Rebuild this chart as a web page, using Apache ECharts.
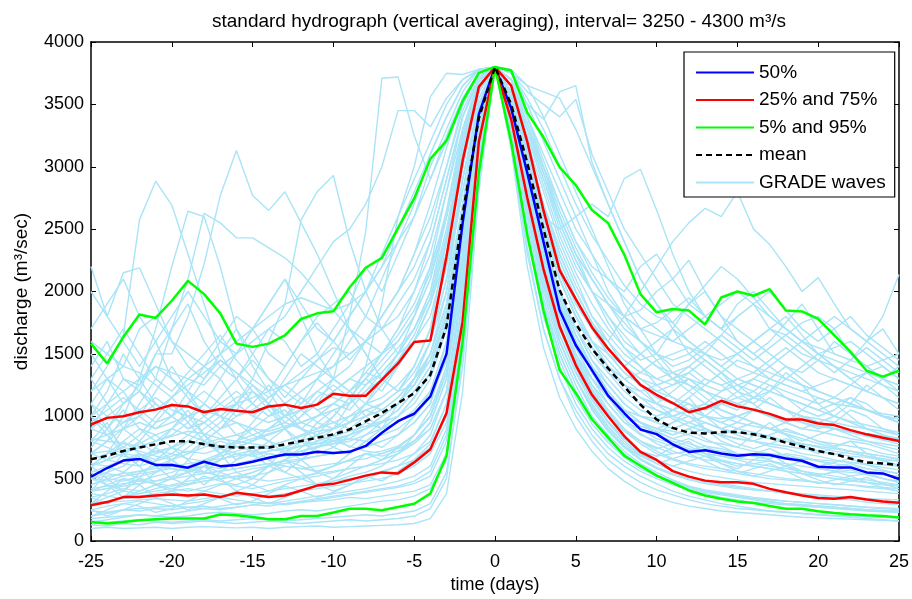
<!DOCTYPE html>
<html>
<head>
<meta charset="utf-8">
<script src="https://cdn.jsdelivr.net/npm/echarts@6/dist/echarts.min.js"></script>
<style>html,body{margin:0;padding:0;background:#fff}#c{width:912px;height:599px}</style>
</head>
<body>
<div id="c"></div>
<script>
const days = [-25,-24,-23,-22,-21,-20,-19,-18,-17,-16,-15,-14,-13,-12,-11,-10,-9,-8,-7,-6,-5,-4,-3,-2,-1,0,1,2,3,4,5,6,7,8,9,10,11,12,13,14,15,16,17,18,19,20,21,22,23,24,25];
const xTicks = [-25,-20,-15,-10,-5,0,5,10,15,20,25];
const yTicks = [0,500,1000,1500,2000,2500,3000,3500,4000];

const p05 = [153,140,153,167,175, 180,180,180,212,206, 193,175,175,200,200, 228,259,259,246,272, 299,380,683,1600,2950, 3800, 3200,2450,1850,1370,1185, 974,830,683,603,524, 466,405,365,339,317, 304,280,259,259,238, 225,214,206,201,188];
const p25 = [286,312,352,352,365, 373,365,373,352,386, 370,352,365,405,444, 458,490,524,550,542, 630,735,1026,1760,3200, 3800, 3380,2750,2180,1720,1410, 1172,1000,841,715,650, 560,516,484,471,471, 458,418,391,365,344, 339,352,333,317,307];
const p50 = [515,585,645,658,610, 610,588,635,600,610, 635,668,693,693,715, 706,715,762,868,960, 1020,1159,1500,2550,3420, 3800, 3470,2950,2400,1850,1569, 1370,1165,1026,894,857, 775,714,728,701,683, 696,690,661,643,595, 590,590,550,542,497];
const p75 = [934,987,1000,1032,1053, 1090,1079,1032,1058,1045, 1032,1079,1093,1066,1093, 1180,1164,1164,1291,1423, 1595,1608,2280,3050,3640, 3800, 3650,3200,2650,2170,1939, 1714,1542,1397,1251,1172, 1106,1032,1066,1124,1079, 1053,1019,974,974,942, 929,889,855,828,802];
const p95 = [1582,1423,1635,1815,1788, 1926,2085,1979,1825,1582, 1556,1582,1648,1780,1825, 1841,2032,2190,2270,2508, 2746,3063,3209,3526,3752, 3800, 3772,3434,3236,2997,2852, 2653,2548,2296,1979,1833, 1860,1847,1736,1952,2000, 1966,2019,1847,1840,1780, 1648,1516,1365,1318,1365];
const meanQ = [656,683,722,749,775, 799,799,775,757,749, 749,749,775,802,828, 855,894,960,1026,1106, 1185,1331,1720,2620,3390, 3800, 3500,3030,2500,2010,1741, 1542,1384,1238,1093,974, 907,868,862,873,873, 855,828,788,757,722, 696,661,630,622,608];

const gradeWaves = [
 [900,1100,1300,1250,1500, 1500,1800,2220,2770,3130, 2770,2650,2800,2550,2300, 2000,1700,1500,1300,1200, 1400,1700,2400,3200,3650, 3800, 3400,2700,2100,1700,1450, 1300,1150,1000,950,900, 850,900,820,760,700, 680,650,600,640,580, 560,520,540,500,480],
 [1200,1400,1650,2574,2884, 2693,2300,1900,1500,1300, 1100,1000,1050,900,850, 800,820,900,1000,1100, 1250,1500,2000,2900,3500, 3800, 3500,2900,2300,1900,1600, 1350,1150,1000,900,820, 780,740,700,680,650, 620,600,580,560,540, 520,500,490,470,450],
 [500,550,600,700,650, 700,800,900,1000,1100, 1300,1600,1900,2574,2800, 2930,2405,2000,1700,1500, 1600,1900,2300,3000,3600, 3800, 3600,3100,2500,2100,1800, 1600,1450,1300,1200,1100, 1050,1000,950,900,870, 850,820,800,780,760, 740,720,700,680,660],
 [600,700,900,1100,1300, 1700,2100,2627,2550,2430, 2430,2350,2270,2150,2000, 1850,1700,1500,1300,1200, 1250,1500,1900,2700,3400, 3800, 3300,2700,2200,1800,1500, 1300,1150,1050,950,900, 880,850,800,780,750, 720,700,690,660,640, 620,600,580,560,540],
 [700,800,1000,1300,1700, 2200,2643,2600,2200,1700, 1400,1200,1000,900,850, 800,760,720,700,750, 850,1000,1400,2300,3300, 3800, 3400,2800,2300,1900,1600, 1400,1200,1050,950,850, 800,760,700,650,620, 600,580,560,540,520, 500,480,470,450,440],
 [2200,1800,2150,2190,1900, 1600,1400,1300,1450,1350, 1200,1100,1000,1050,950, 900,950,1100,1300,1500, 1800,2200,2800,3300,3650, 3800, 3600,3200,2800,2400,2100, 1800,1600,1400,1250,1100, 1000,950,900,850,820, 800,760,740,700,680, 650,630,610,590,570],
 [400,450,500,480,520, 550,600,650,700,750, 800,850,900,1000,1100, 1300,1800,2480,3710,3720, 3250,2900,3200,3500,3750, 3800, 3700,3400,3000,2600,2300, 2000,1750,1550,1400,1250, 1150,1050,1000,950,900, 870,840,800,780,750, 720,700,680,660,640],
 [300,320,350,380,400, 420,450,480,500,520, 550,600,650,700,800, 900,1100,1400,1900,2600, 3000,3560,3750,3740,3780, 3800, 3780,3650,3400,3100,2800, 2500,2200,1900,1700,1500, 1350,1250,1150,1050,1000, 950,900,860,820,780, 750,720,700,680,650],
 [1000,900,1100,1200,1050, 1150,1300,1250,1400,1500, 1600,1700,1800,2000,2200, 2400,2500,2700,3000,3450, 3450,3320,3550,3700,3770, 3800, 3700,3500,3200,2900,2600, 2300,2000,1800,1600,1450, 1300,1200,1100,1050,1000, 950,900,880,850,800, 780,760,740,700,680],
 [500,480,520,560,600, 620,580,600,650,700, 680,720,750,800,780, 820,850,900,1000,1100, 1300,1600,2100,2900,3500, 3800, 3780,3500,3380,3600,3650, 3036,2700,2400,2100,1900, 1700,1500,1400,1300,1200, 1150,1100,1050,1000,950, 900,880,850,820,800],
 [800,850,900,950,900, 950,1000,1050,1000,1100, 1150,1200,1250,1300,1350, 1400,1500,1600,1800,2000, 2200,2500,3000,3500,3750, 3800, 3750,3600,3500,3400,3540, 3100,2800,2500,2300,2100, 1900,1800,1700,1600,1500, 1400,1350,1300,1250,1200, 1150,1100,1050,1000,950],
 [400,420,450,500,480, 520,550,600,580,620, 650,700,680,720,750, 800,850,900,1000,1100, 1300,1600,2000,2700,3400, 3800, 3500,3000,2600,2500,2600, 2700,2600,2905,2980,2653, 2300,2000,1800,1700,1600, 1500,1400,1300,1250,1200, 1150,1100,1050,1000,980],
 [600,650,700,680,720, 750,800,780,820,850, 900,880,920,950,1000, 1050,1100,1200,1300,1450, 1600,1900,2400,3100,3600, 3800, 3600,3100,2600,2200,1900, 1700,1600,1800,2000,2200, 2400,2550,2667,2600,2800, 2500,2376,2200,2000,2111, 1900,1700,1600,1500,1400],
 [300,350,400,380,420, 450,480,500,520,550, 580,600,620,650,680, 700,720,760,800,850, 950,1100,1600,2500,3300, 3800, 3400,2800,2300,1900,1600, 1400,1250,1100,1000,950, 900,950,1000,1100,1200, 1300,1400,1500,1600,1700, 1800,1700,1600,1800,2137],
 [130,120,140,130,150, 140,150,160,150,140, 150,160,150,140,150, 160,170,160,170,180, 200,260,500,1500,2900, 3800, 3200,2300,1700,1300,1050, 850,700,600,520,460, 400,360,330,300,280, 260,240,230,220,210, 200,190,180,170,160],
 [200,220,250,240,260, 250,270,280,260,270, 290,280,300,310,320, 330,350,340,360,380, 400,450,700,1700,3000, 3800, 3300,2500,1900,1500,1200, 1000,850,720,620,550, 490,440,400,380,360, 340,320,300,290,280, 270,260,250,240,230],
 [350,380,420,400,450, 420,400,430,460,440, 420,450,480,500,520, 550,580,600,620,650, 700,800,1100,1900,3100, 3800, 3400,2700,2100,1650,1350, 1150,950,800,700,620, 560,520,480,460,440, 420,400,390,370,350, 340,330,310,300,290],
 [550,600,650,700,620, 580,560,600,650,700, 680,650,700,720,750, 780,800,850,900,950, 1050,1200,1500,2400,3400, 3800, 3500,2900,2400,1950,1600, 1350,1150,980,860,780, 720,680,650,640,620, 600,580,560,540,520, 500,490,470,460,450],
 [1300,1100,900,1000,1200, 1400,1200,1000,900,1000, 1100,1250,1100,950,900, 1000,1150,1300,1200,1400, 1600,1800,2300,3000,3600, 3800, 3600,3100,2600,2200,1900, 1700,1500,1350,1250,1150, 1100,1200,1300,1250,1150, 1100,1200,1350,1250,1100, 1000,1100,1250,1150,1050],
 [750,900,1050,900,800, 850,950,1100,1000,850, 800,900,1000,1150,1050, 950,900,1000,1100,1200, 1400,1700,2200,2800,3500, 3800, 3500,3000,2500,2100,1800, 1550,1400,1250,1150,1100, 1050,1150,1250,1350,1200, 1100,1000,950,1050,1150, 1100,1000,900,850,800],
 [450,500,480,520,550, 600,580,550,520,500, 520,550,600,580,560, 600,650,700,680,720, 800,950,1300,2200,3300, 3800, 3450,2850,2300,1850,1500, 1250,1050,900,800,720, 660,620,600,580,560, 540,520,500,490,470, 460,450,430,420,400],
 [1600,1500,1400,1700,1800, 1600,1500,1400,1600,1800, 1700,1500,1400,1600,1800, 1900,2000,1800,1700,1900, 2100,2400,2900,3400,3700, 3800, 3700,3300,2900,2500,2200, 2000,1900,1800,1850,2000, 2100,1900,1800,1700,1900, 2000,1850,1700,1600,1500, 1450,1400,1350,1300,1250],
 [700,650,800,900,850, 750,700,800,900,950, 850,800,750,800,850, 900,1000,1100,1050,1150, 1300,1500,1900,2600,3450, 3800, 3550,3000,2500,2100,1800, 1600,1500,1400,1500,1600, 1700,1600,1500,1400,1500, 1600,1700,1800,1650,1500, 1400,1300,1350,1400,1300],
 [250,280,300,320,300, 280,300,320,350,330, 310,300,320,340,360, 380,400,420,450,480, 520,600,900,1750,3050, 3800, 3300,2600,2000,1550,1250, 1000,820,700,600,520, 460,420,390,370,350, 330,310,300,290,280, 270,260,250,245,240],
 [1000,1200,1500,1300,1100, 1000,1100,1300,1500,1700, 1500,1300,1200,1100,1300, 1500,1700,1600,1500,1700, 1900,2200,2600,3200,3700, 3800, 3650,3250,2850,2450,2150, 1900,1700,1550,1450,1500, 1700,1900,2000,1800,1600, 1500,1600,1750,1900,1700, 1500,1450,1600,1700,1500],
 [100,110,100,105,110, 100,110,115,110,105, 110,100,110,115,120, 110,115,120,125,130, 140,180,380,1200,2800, 3800, 3150,2200,1550,1150,900, 720,580,480,400,350, 310,280,260,240,230, 220,210,200,190,185, 180,175,170,165,160],
 [500,450,400,550,600, 500,450,520,480,450, 500,600,550,500,450, 480,520,550,600,700, 850,1050,1400,2100,3200, 3800, 3350,2750,2200,1800,1450, 1200,1000,880,800,750, 700,720,760,740,700, 680,660,700,680,640, 600,620,580,560,540],
 [800,750,700,780,850, 900,850,800,750,800, 850,900,950,900,1000, 1100,1050,1200,1350,1500, 1700,2000,2500,3200,3650, 3800, 3650,3300,3000,2700,2400, 2200,2100,2000,2200,2300, 2100,2250,2000,1800,1700, 1600,1500,1400,1350,1450, 1600,1500,1400,1300,1250],
 [650,700,750,720,680, 650,700,750,800,760, 720,700,680,720,760, 780,820,800,850,900, 1000,1150,1450,2300,3350, 3800, 3450,2900,2350,1900,1550, 1300,1100,950,850,800, 760,730,700,680,660, 650,640,620,600,580, 560,550,540,530,520],
 [1100,1000,950,1050,1150, 1050,1000,950,1050,1100, 1000,950,1000,1100,1200, 1150,1100,1250,1400,1550, 1700,1950,2450,3100,3600, 3800, 3600,3150,2700,2300,2000, 1750,1550,1400,1300,1200, 1150,1100,1050,1100,1150, 1200,1100,1050,1000,980, 950,920,900,880,850],
 [1400,1600,1300,1200,1500, 1700,1900,1600,1400,1300, 1500,1700,1600,1400,1500, 1700,1900,2200,2000,2300, 2600,3000,3300,3600,3780, 3800, 3700,3400,3100,2800,2500, 2300,2100,1950,1800,1700, 1600,1550,1500,1650,1800, 1900,1700,1600,1500,1450, 1400,1350,1300,1250,1200],
 [900,850,950,1000,1100, 1000,900,950,1050,1150, 1200,1100,1000,1050,1100, 1200,1300,1250,1350,1500, 1700,2000,2600,3300,3700, 3800, 3550,3050,2600,2250,1950, 1700,1500,1350,1250,1150, 1100,1050,1000,980,1000, 1050,1000,950,900,880, 850,820,800,780,760],
 [380,360,340,360,380, 400,420,400,380,360, 380,400,420,440,460, 480,500,520,560,600, 650,750,1000,1850,3150, 3800, 3350,2650,2050,1600,1300, 1080,900,760,660,590, 540,500,470,450,430, 410,400,380,370,360, 350,340,330,320,310],
 [180,190,200,210,200, 190,200,220,230,220, 210,220,240,250,240, 260,280,300,320,330, 360,420,650,1550,2950, 3800, 3250,2450,1800,1400,1100, 900,750,640,560,500, 450,410,380,350,330, 310,300,290,280,270, 260,250,240,235,230],
 [820,800,780,760,800, 840,880,860,820,800, 780,760,800,840,880, 900,950,1000,1050,1150, 1300,1450,1800,2500,3450, 3800, 3500,2950,2450,2000,1650, 1400,1200,1050,950,870, 820,780,740,720,700, 690,680,670,660,650, 640,630,620,610,600],
 [600,650,700,750,800, 900,1000,1100,1300,1500, 1700,1900,2100,1800,1500, 1300,1200,1100,1150,1250, 1400,1700,2200,2900,3550, 3800, 3550,3050,2550,2150,1850, 1600,1400,1250,1150,1050, 980,920,880,850,820, 800,780,760,740,720, 700,680,670,650,640],
 [500,520,540,560,580, 600,620,640,660,680, 700,720,740,760,780, 800,850,900,950,1000, 1100,1300,1700,2500,3400, 3800, 3450,2900,2400,2000,1700, 1500,1350,1250,1200,1250, 1300,1400,1500,1450,1500, 1600,1700,1650,1750,1800, 1700,1500,1400,1300,1200],
 [240,230,250,260,270, 280,270,260,280,300, 310,300,290,310,330, 350,370,390,410,430, 460,520,800,1650,3000, 3800, 3280,2550,1950,1500,1200, 980,810,690,600,530, 480,440,410,390,370, 350,335,320,310,300, 290,280,270,260,250],
 [1200,1300,1400,1350,1250, 1150,1250,1350,1450,1350, 1250,1150,1250,1350,1450, 1550,1500,1600,1700,1800, 2000,2300,2800,3400,3720, 3800, 3650,3300,2950,2600,2300, 2100,1900,1750,1600,1500, 1450,1500,1600,1500,1400, 1350,1450,1550,1450,1350, 1300,1250,1200,1300,1400],
 [700,720,680,650,700, 750,800,780,740,700, 720,760,800,850,900, 950,1000,1050,1100,1200, 1350,1600,2100,2800,3500, 3800, 3500,3000,2500,2100,1800, 1550,1400,1300,1350,1450, 1500,1550,1450,1350,1250, 1150,1100,1050,1000,950, 900,870,840,810,780],
 [600,650,620,600,640, 680,720,700,740,780, 820,860,900,950,1000, 1100,1200,1300,1500,1700, 2000,2400,2900,3400,3700, 3800, 3750,3650,3600,3550,3300, 3000,2700,2400,2100,1900, 1750,1600,1500,1400,1300, 1250,1200,1150,1100,1050, 1000,960,930,900,870],
 [1700,1900,2100,1800,1600, 1300,1200,1100,1000,950, 900,1000,1100,1200,1300, 1400,1600,1800,2100,2400, 2700,3100,3400,3650,3780, 3800, 3700,3350,2950,2550,2250, 2000,1800,1650,1500,1400, 1300,1250,1200,1150,1100, 1050,1000,980,950,920, 900,880,860,840,820],
 [420,440,460,480,460, 440,460,480,500,520, 500,480,500,520,540, 560,580,600,650,700, 780,900,1200,2000,3200, 3800, 3400,2750,2150,1700,1400, 1150,950,820,720,650, 600,560,530,510,490, 470,460,450,440,430, 420,410,400,390,380],
 [160,150,160,170,160, 150,160,170,160,170, 180,170,160,170,180, 190,200,210,200,220, 240,300,550,1400,2850, 3800, 3150,2350,1700,1300,1000, 800,650,550,470,410, 370,330,300,280,260, 250,240,230,220,210, 205,200,195,190,185],
 [1000,1100,1200,1300,1400, 1350,1300,1400,1500,1600, 1700,1800,1900,1950,1900, 1850,1900,2000,2200,2400, 2600,2900,3250,3550,3750, 3800, 3650,3300,2950,2600,2300, 2100,1900,1800,1700,1650, 1600,1700,1800,1900,2000, 1900,1800,1700,1600,1500, 1400,1300,1200,1150,1100],
 [560,540,520,540,560, 580,560,540,560,580, 600,620,600,580,600, 620,640,660,700,740, 800,900,1200,2100,3300, 3800, 3400,2800,2250,1800,1450, 1200,1020,880,780,700, 650,610,580,560,540, 520,500,490,480,470, 460,450,440,430,420],
 [400,420,440,460,480, 500,520,540,560,580, 600,620,640,660,680, 700,720,750,800,850, 950,1100,1500,2300,3300, 3800, 3400,2850,2300,1850,1550, 1300,1150,1050,1000,980, 1000,1050,1100,1200,1300, 1250,1200,1300,1400,1500, 1550,1600,1500,1400,1300],
 [1100,1300,1200,1000,900, 1000,1200,1400,1300,1100, 1000,1100,1300,1500,1400, 1300,1400,1600,1800,2000, 2300,2600,3000,3450,3720, 3800, 3600,3250,2900,2550,2250, 2000,1800,1600,1500,1400, 1350,1300,1250,1350,1450, 1400,1300,1250,1200,1150, 1100,1080,1050,1020,1000],
 [300,310,320,330,340, 330,320,340,360,380, 370,360,380,400,420, 440,460,480,500,540, 600,700,950,1800,3100, 3800, 3300,2650,2050,1600,1300, 1060,880,750,650,580, 530,490,460,440,420, 410,400,390,380,370, 360,350,340,335,330],
 [620,600,640,680,720, 700,660,640,680,720, 760,740,720,760,800, 840,880,920,960,1050, 1200,1400,1800,2600,3450, 3800, 3500,3000,2500,2100,1800, 1550,1350,1200,1100,1050, 1000,1050,1100,1000,950, 920,900,950,1000,950, 900,880,860,840,820],
 [800,950,700,600,750, 900,1050,850,700,800, 950,1100,900,750,850, 1000,1150,1000,900,1100, 1300,1500,1900,2700,3500, 3800, 3500,2950,2450,2000,1700, 1450,1250,1100,1000,950, 1050,1150,1000,900,950, 1050,1150,1050,950,900, 950,1050,1000,900,850],
 [400,550,700,600,450, 500,650,800,700,550, 500,600,750,650,550, 600,700,800,750,850, 1000,1200,1600,2400,3400, 3800, 3400,2850,2300,1850,1500, 1250,1100,950,900,850, 950,1050,900,800,750, 850,950,850,750,700, 750,800,700,650,600],
 [1100,900,750,850,1000, 1150,1000,850,950,1100, 1250,1100,950,1050,1200, 1300,1200,1350,1500,1650, 1850,2150,2650,3300,3700, 3800, 3600,3150,2700,2350,2050, 1800,1650,1500,1400,1300, 1250,1350,1450,1350,1250, 1200,1300,1400,1300,1200, 1150,1250,1350,1250,1150],
 [300,400,500,450,350, 400,500,600,500,400, 450,550,650,550,450, 500,600,700,650,750, 850,1000,1350,2200,3300, 3800, 3380,2780,2200,1750,1420, 1150,960,820,720,680, 750,800,700,620,580, 650,700,620,560,520, 560,600,540,500,470],
 [600,500,400,500,650, 750,650,550,650,800, 900,800,700,800,950, 1050,950,1100,1250,1400, 1600,1900,2400,3100,3600, 3800, 3550,3050,2550,2150,1850, 1600,1400,1250,1150,1100, 1200,1300,1200,1100,1050, 1150,1250,1150,1050,1000, 1050,1150,1100,1000,950],
 [200,250,300,280,230, 260,320,380,340,290, 320,380,440,400,350, 390,450,520,480,560, 650,780,1100,1950,3150, 3800, 3300,2650,2050,1600,1300, 1050,880,760,680,620, 660,700,640,580,540, 580,620,560,500,460, 490,520,470,430,400],
 [1300,1500,1700,1500,1300, 1200,1350,1500,1650,1450, 1300,1200,1400,1600,1750, 1600,1800,2000,2200,2500, 2800,3100,3400,3650,3780, 3800, 3700,3400,3050,2700,2400, 2150,1950,1800,1700,1750, 1850,1950,1800,1700,1800, 1900,2000,1850,1700,1600, 1700,1800,1650,1550,1450],
 [950,1050,1150,1050,950, 1000,1100,1200,1100,1000, 1050,1150,1250,1150,1050, 1100,1200,1350,1300,1450, 1650,1950,2450,3150,3650, 3800, 3600,3150,2700,2300,2000, 1750,1550,1400,1300,1250, 1300,1350,1250,1200,1250, 1300,1250,1200,1150,1100, 1150,1100,1050,1000,980],
 [500,600,550,650,750, 650,550,600,700,800, 700,600,650,750,850, 750,700,800,900,1000, 1150,1350,1750,2550,3450, 3800, 3480,2950,2450,2000,1650, 1400,1200,1050,950,900, 850,900,950,900,850, 800,850,900,850,800, 760,800,780,740,700],
 [250,200,250,300,350, 300,250,300,350,400, 350,300,350,400,450, 400,450,500,550,600, 700,850,1200,2050,3200, 3800, 3320,2700,2100,1650,1350, 1100,920,780,690,640, 600,640,680,620,560, 520,560,600,540,490, 450,480,510,460,420],
 [1500,1300,1100,1250,1400, 1300,1150,1000,1150,1300, 1450,1300,1150,1300,1450, 1600,1450,1600,1800,2000, 2300,2700,3150,3550,3750, 3800, 3650,3350,3000,2650,2350, 2100,1900,1700,1600,1500, 1400,1450,1550,1650,1550, 1450,1550,1650,1550,1450, 1350,1450,1550,1450,1350],
 [700,800,900,800,700, 750,850,950,850,750, 800,900,1000,900,800, 850,950,1050,1000,1100, 1250,1450,1850,2650,3500, 3800, 3480,2950,2450,2000,1700, 1450,1300,1150,1050,1000, 1050,1100,1000,950,1000, 1050,1000,950,900,950, 1000,950,900,850,820],
 [350,300,350,400,450, 400,350,400,450,500, 450,400,450,500,550, 500,550,600,650,700, 800,950,1300,2150,3250, 3800, 3350,2750,2150,1700,1380, 1130,950,820,720,680, 700,720,680,640,600, 620,640,600,560,530, 550,570,530,500,470],
 [1000,850,700,800,950, 1100,950,800,900,1050, 1200,1050,900,1000,1150, 1250,1150,1300,1450,1600, 1800,2100,2600,3250,3680, 3800, 3580,3100,2650,2250,1950, 1700,1500,1350,1250,1200, 1250,1300,1200,1150,1100, 1150,1200,1150,1100,1050, 1100,1150,1050,1000,950],
 [150,170,190,210,200, 220,240,260,250,270, 290,310,300,320,340, 360,380,400,420,440, 480,560,850,1700,3000, 3800, 3250,2500,1900,1450,1150, 940,790,670,580,520, 470,430,400,380,360, 340,330,320,310,300, 290,280,270,265,260],
 [600,700,800,700,600, 650,750,850,750,650, 700,800,900,800,700, 750,850,950,900,1000, 1150,1350,1750,2550,3450, 3800, 3450,2900,2400,1950,1650, 1400,1200,1050,950,900, 950,1000,900,850,900, 950,900,850,800,850, 900,850,800,760,730],
 [450,500,550,500,450, 500,550,600,550,500, 550,600,650,600,550, 600,650,700,720,760, 850,1000,1350,2250,3300, 3800, 3420,2820,2250,1800,1470, 1220,1030,900,800,740, 780,820,760,700,660, 700,740,680,630,600, 630,660,610,570,540],
 [900,1000,1100,1200,1100, 1000,900,1000,1100,1200, 1100,1000,1100,1200,1300, 1200,1300,1400,1500,1600, 1800,2100,2600,3250,3680, 3800, 3600,3150,2700,2300,2000, 1750,1600,1450,1350,1300, 1350,1400,1300,1250,1300, 1350,1300,1250,1200,1250, 1300,1250,1200,1150,1100],
 [2000,1800,1600,1400,1600, 1800,2000,1800,1600,1500, 1700,1900,2100,1900,1700, 1600,1800,2000,2300,2600, 2900,3200,3500,3700,3780, 3800, 3750,3550,3300,3000,2700, 2450,2250,2050,1900,1800, 1750,1900,2050,2200,2100, 1950,1800,1700,1600,1550, 1500,1450,1400,1450,1500],
 [550,450,350,450,550, 650,550,450,550,650, 750,650,550,650,750, 850,750,850,950,1050, 1200,1400,1800,2600,3450, 3800, 3450,2900,2400,1950,1600, 1350,1150,1000,920,880, 820,860,900,840,780, 740,780,820,770,720, 690,720,680,640,610]
];

const FONT = 'Liberation Sans, Arial, sans-serif';
const pair = arr => arr.map((v, i) => [days[i], v]);

const series = [];
gradeWaves.forEach(w => {
  series.push({ name: 'GRADE waves', type: 'line', data: pair(w), symbol: 'none', silent: true,
    lineStyle: { color: '#a9e4f7', width: 1.4 }, itemStyle: { color: '#a9e4f7' }, z: 1 });
});
series.push({ name: '50%', type: 'line', data: pair(p50), symbol: 'none',
  lineStyle: { color: '#0000ff', width: 2.5 }, itemStyle: { color: '#0000ff' }, z: 3 });
series.push({ name: '25% and 75%', type: 'line', data: pair(p25), symbol: 'none',
  lineStyle: { color: '#ff0000', width: 2.5 }, itemStyle: { color: '#ff0000' }, z: 3 });
series.push({ name: '25% and 75%', type: 'line', data: pair(p75), symbol: 'none',
  lineStyle: { color: '#ff0000', width: 2.5 }, itemStyle: { color: '#ff0000' }, z: 3 });
series.push({ name: '5% and 95%', type: 'line', data: pair(p05), symbol: 'none',
  lineStyle: { color: '#00ff00', width: 2.5 }, itemStyle: { color: '#00ff00' }, z: 3 });
series.push({ name: '5% and 95%', type: 'line', data: pair(p95), symbol: 'none',
  lineStyle: { color: '#00ff00', width: 2.5 }, itemStyle: { color: '#00ff00' }, z: 3 });
series.push({ name: 'mean', type: 'line', data: pair(meanQ), symbol: 'none',
  lineStyle: { color: '#000000', width: 2.5, type: [6, 4] }, itemStyle: { color: '#000000' }, z: 4 });

const axisCommon = {
  axisLine: { show: true, onZero: false, lineStyle: { color: '#000', width: 1.5 } },
  axisTick: { show: true, inside: true, length: 5, lineStyle: { color: '#000', width: 1 } },
  splitLine: { show: false }
};

const chart = echarts.init(document.getElementById('c'), null, { renderer: 'canvas' });
chart.setOption({
  backgroundColor: '#fff',
  animation: false,
  title: {
    text: 'standard hydrograph (vertical averaging), interval= 3250 - 4300 m³/s',
    left: 494, top: 7, textAlign: 'center',
    textStyle: { fontFamily: FONT, fontSize: 19, fontWeight: 'normal', color: '#000' }
  },
  legend: {
    data: ['50%', '25% and 75%', '5% and 95%', 'mean', 'GRADE waves'],
    orient: 'vertical', left: 684, top: 52,
    itemWidth: 58, itemHeight: 14, itemGap: 8.5,
    padding: [11, 9, 5, 11],
    backgroundColor: '#fff', borderColor: '#000', borderWidth: 1.2,
    selectedMode: false,
    itemStyle: { opacity: 0 },
    textStyle: { fontFamily: FONT, fontSize: 19, color: '#000' }
  },
  grid: { left: 91, right: 9, top: 42, bottom: 53 },
  xAxis: [
    Object.assign({ type: 'value', min: -25, max: 25, interval: 5, position: 'bottom',
      name: 'time (days)', nameLocation: 'middle', nameGap: 35,
      nameTextStyle: { fontFamily: FONT, fontSize: 18, color: '#000' },
      axisLabel: { fontFamily: FONT, fontSize: 18, color: '#000', margin: 12,
        formatter: v => xTicks.includes(v) ? String(v) : '' } }, axisCommon),
    Object.assign({ type: 'value', min: -25, max: 25, interval: 5, position: 'top',
      axisLabel: { show: false } }, axisCommon)
  ],
  yAxis: [
    Object.assign({ type: 'value', min: 0, max: 4000, interval: 500, position: 'left',
      name: 'discharge (m³/sec)', nameLocation: 'middle', nameGap: 60, nameRotate: 90,
      nameTextStyle: { fontFamily: FONT, fontSize: 19, color: '#000' },
      axisLabel: { fontFamily: FONT, fontSize: 18, color: '#000', margin: 7,
        formatter: v => yTicks.includes(v) ? String(v) : '' } }, axisCommon),
    Object.assign({ type: 'value', min: 0, max: 4000, interval: 500, position: 'right',
      axisLabel: { show: false } }, axisCommon)
  ],
  series: series
});
</script>
</body>
</html>
